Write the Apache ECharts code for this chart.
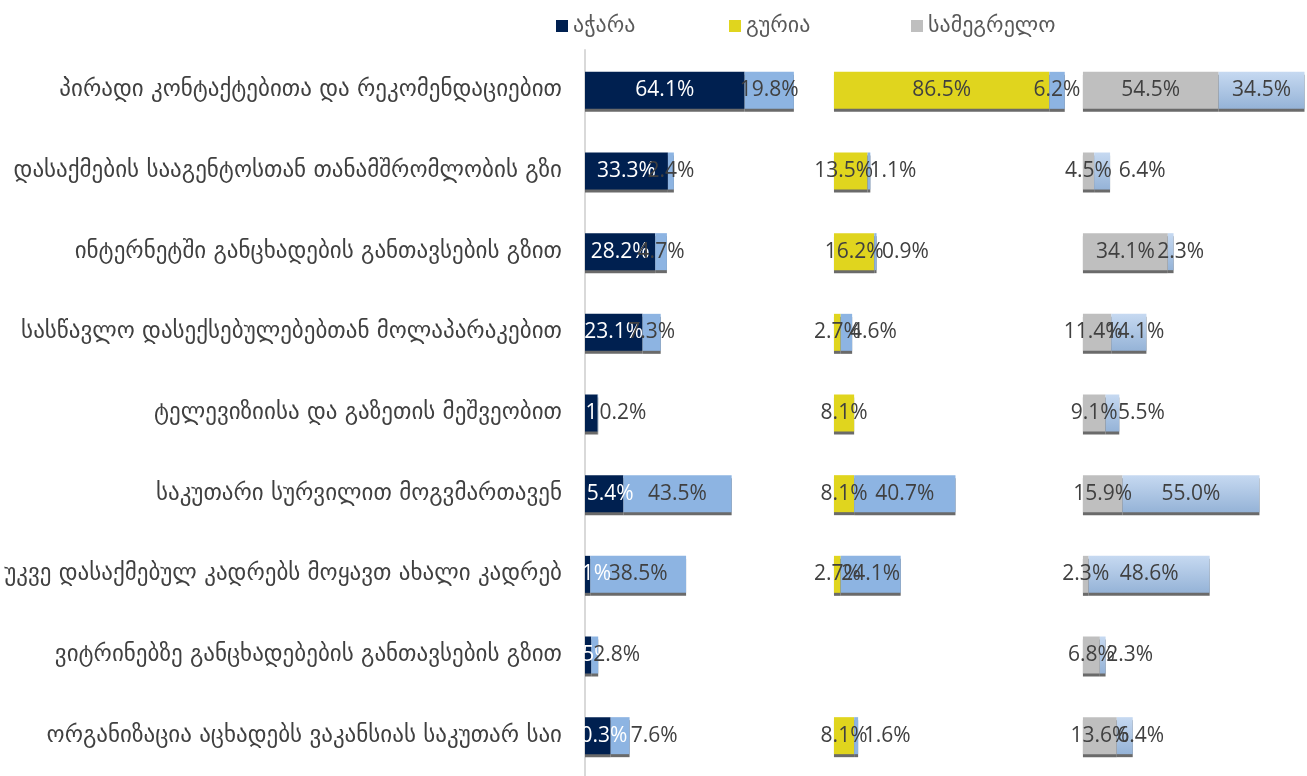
<!DOCTYPE html>
<html>
<head>
<meta charset="utf-8">
<script src="https://cdn.jsdelivr.net/npm/echarts@6/dist/echarts.min.js"></script>
<style>
  html, body { margin: 0; padding: 0; background: #fff; }
  #chart { width: 1307px; height: 776px; }
</style>
</head>
<body>
<div id="chart"></div>
<script>
// categories (top to bottom)
var categories = [
  'პირადი კონტაქტებითა და რეკომენდაციებით',
  'დასაქმების სააგენტოსთან თანამშრომლობის გზი',
  'ინტერნეტში განცხადების განთავსების გზით',
  'სასწავლო დასექსებულებებთან მოლაპარაკებით',
  'ტელევიზიისა და გაზეთის მეშვეობით',
  'საკუთარი სურვილით მოგვმართავენ',
  'უკვე დასაქმებულ კადრებს მოყავთ ახალი კადრებ',
  'ვიტრინებზე განცხადებების განთავსების გზით',
  'ორგანიზაცია აცხადებს ვაკანსიას საკუთარ საი'
]
var regions = ['აჭარა', 'გურია', 'სამეგრელო']

// აჭარა
var ajara1 = [64.1, 33.3, 28.2, 23.1, 5.1, 15.4, 2.1, 2.5, 10.3]
var ajara2 = [19.8, 2.4, 4.7, 7.3, 0.2, 43.5, 38.5, 2.8, 7.6]
// გურია
var guria1 = [86.5, 13.5, 16.2, 2.7, 8.1, 8.1, 2.7, 0, 8.1]
var guria2 = [6.2, 1.1, 0.9, 4.6, 0, 40.7, 24.1, 0, 1.6]
// სამეგრელო
var sam1 = [54.5, 4.5, 34.1, 11.4, 9.1, 15.9, 2.3, 6.8, 13.6]
var sam2 = [34.5, 6.4, 2.3, 14.1, 5.5, 55.0, 48.6, 2.3, 6.4]

// labels that were nudged sideways in the original (row index -> px)
var nudgeA2 = {4: 25, 7: 22, 8: 34}
var nudgeG1 = {1: -7}
var nudgeG2 = {1: 24, 2: 30, 3: 27, 8: 31}
var nudgeS1 = {3: -4}
var nudgeS2 = {1: 40, 2: 10, 3: 6, 4: 29, 7: 27, 8: 16}

// each panel takes 100% of the axis, rest is an empty spacer
function spacer (a, b) {
  return a.map(function (v, i) { return 100 - v - b[i] })
}

var numFont = 'Open Sans'
var geoFont = 'DejaVu Sans'
var lightBlue = '#8db4e2'
var samBlue = new echarts.graphic.LinearGradient(0, 0, 0, 1, [
  {offset: 0, color: '#c6d9f1'},
  {offset: 1, color: '#95b3d7'}
])

function pct (p) {
  return p.value ? p.value.toFixed(1) + '%' : ''
}

function withNudge (data, nudge) {
  return data.map(function (v, i) {
    if (nudge && nudge[i] !== undefined) {
      return {value: v, label: {offset: [nudge[i], 0]}}
    }
    return v
  })
}

function barSeries (name, data, color, labelColor, nudge) {
  return {
    name: name,
    type: 'bar',
    stack: 'all',
    barWidth: 37,
    data: withNudge(data, nudge),
    itemStyle: {
      color: color,
      shadowColor: 'rgba(90,90,90,0.9)',
      shadowOffsetY: 3,
      shadowBlur: 0
    },
    label: {
      show: true,
      position: 'inside',
      formatter: pct,
      color: labelColor,
      fontFamily: numFont,
      fontSize: 21
    },
    emphasis: {disabled: true}
  }
}

function gapSeries (data) {
  return {
    type: 'bar',
    stack: 'all',
    barWidth: 37,
    data: data,
    silent: true,
    itemStyle: {color: 'transparent'},
    label: {show: false}
  }
}

function legendAt (name, left) {
  return {
    data: [name],
    left: left,
    top: 10,
    itemWidth: 12,
    itemHeight: 12,
    icon: 'rect',
    textStyle: {color: '#595959', fontFamily: geoFont, fontSize: 22}
  }
}

var myChart = echarts.init(document.getElementById('chart'))
myChart.setOption({
  animation: false,
  legend: [
    legendAt(regions[0], 551),
    legendAt(regions[1], 724),
    legendAt(regions[2], 906)
  ],
  grid: {left: 585, right: 0, top: 50, bottom: 0},
  xAxis: {
    type: 'value',
    min: 0,
    max: 290,
    show: false
  },
  yAxis: {
    type: 'category',
    data: categories,
    inverse: true,
    offset: 2,
    axisLine: {lineStyle: {color: '#d9d9d9', width: 2}},
    axisTick: {length: 7, lineStyle: {color: '#d9d9d9', width: 2}},
    axisLabel: {
      color: '#404040',
      fontFamily: geoFont,
      fontSize: 23,
      margin: 21
    }
  },
  series: [
    barSeries(regions[0], ajara1, '#002050', '#ffffff'),
    barSeries('ajara2', ajara2, lightBlue, '#404040', nudgeA2),
    gapSeries(spacer(ajara1, ajara2)),
    barSeries(regions[1], guria1, '#e0d51e', '#404040', nudgeG1),
    barSeries('guria2', guria2, lightBlue, '#404040', nudgeG2),
    gapSeries(spacer(guria1, guria2)),
    barSeries(regions[2], sam1, '#bfbfbf', '#404040', nudgeS1),
    barSeries('sam2', sam2, samBlue, '#404040', nudgeS2)
  ]
})
</script>
</body>
</html>
